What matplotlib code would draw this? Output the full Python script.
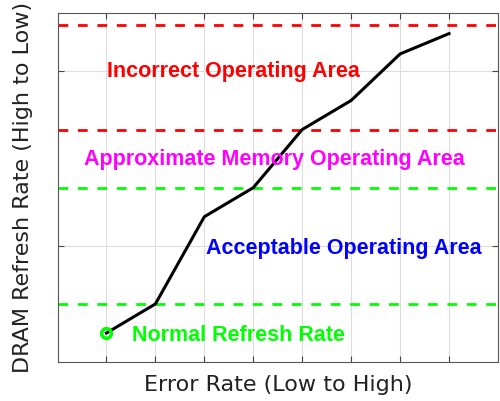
import numpy as np
import matplotlib.pyplot as plt

# error rate steps vs refresh rate level
err_rate = [1, 2, 3, 4, 5, 6, 7, 8]
refresh = [0.5, 1.0, 2.5, 3.0, 4.0, 4.5, 5.3, 5.65]

# region boundaries (dashed) and their colours
bounds = [5.8, 4.0, 3.0, 1.0]
bound_colors = ['#ff0000', '#ff0000', '#00ff00', '#00ff00']

areas = ['Incorrect Operating Area', 'Approximate Memory Operating Area',
         'Acceptable Operating Area', 'Normal Refresh Rate']
area_colors = ['#ff0000', '#ff00ff', '#0000ff', '#00ff00']
area_pos = [(3.59, 5.0, 'center'), (4.43, 3.48, 'center'), (5.85, 1.96, 'center'), (1.52, 0.46, 'left')]

fig = plt.figure(figsize=(5, 4.01), dpi=100)
ax = fig.add_axes([0.115, 0.097, 0.881, 0.87])

for b, c in zip(bounds, bound_colors):
    ax.axhline(b, color=c, ls=(0, (3.5, 3.5)), lw=2, zorder=2)

ax.plot(err_rate, refresh, color='black', lw=2.2, zorder=3)
ax.plot(err_rate[0], refresh[0], 'o', mfc='none', mec='#00ff00', mew=2.5, ms=7, zorder=4)

for txt, c, (x, y, ha) in zip(areas, area_colors, area_pos):
    ax.text(x, y, txt, color=c, ha=ha, va='center', fontsize=15.5,
            fontweight='bold', family='Liberation Sans', zorder=5)

ax.set_xlim(0, 9)
ax.set_ylim(0, 6)
ax.set_xticks(np.arange(1, 9))
ax.set_yticks([2, 5])
ax.set_xticklabels([])
ax.set_yticklabels([])
ax.tick_params(direction='in', top=True, right=True, length=4, color='#444444')
ax.grid(True, color='#dddddd', lw=0.8)
ax.set_axisbelow(True)
for s in ax.spines.values():
    s.set_color('#555555')

ax.set_xlabel('Error Rate (Low to High)', fontsize=16, color='#222222', labelpad=6)
ax.set_ylabel('DRAM Refresh Rate (High to Low)', fontsize=16, color='#222222', labelpad=14)

fig.savefig('out.png', dpi=100)
